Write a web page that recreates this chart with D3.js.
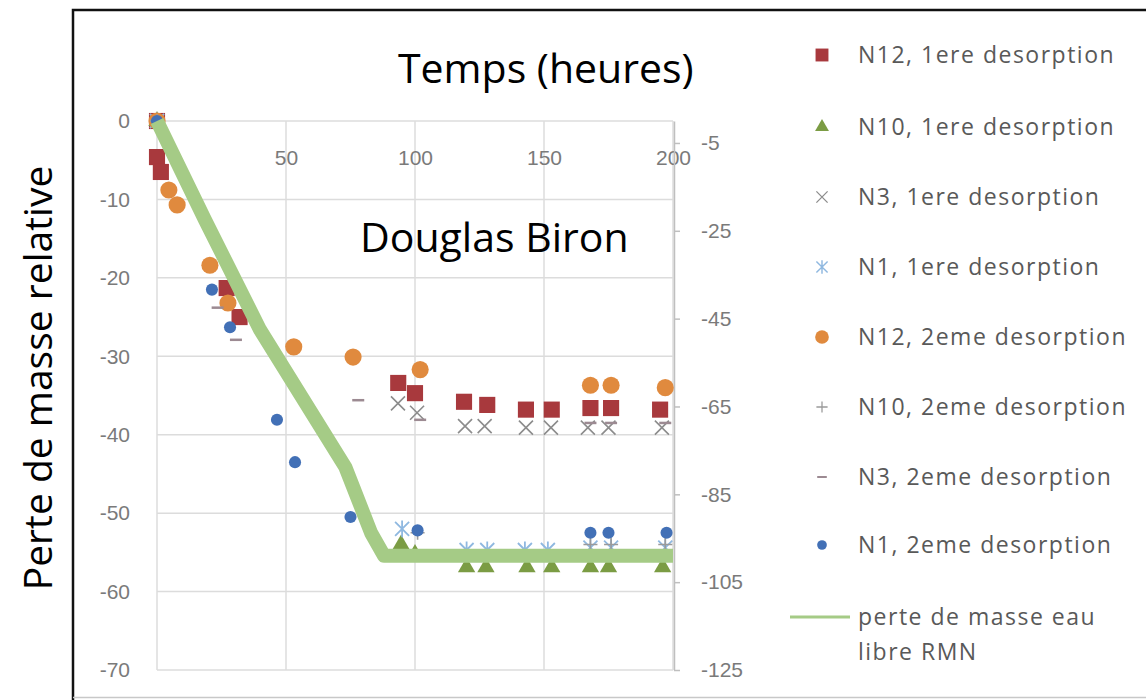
<!DOCTYPE html>
<html>
<head>
<meta charset="utf-8">
<script src="https://cdn.jsdelivr.net/npm/d3@7"></script>
<style>
  body { margin: 0; background: #fff; }
  svg { display: block; }
</style>
</head>
<body>
<script>
const WIDTH = 1146;
const HEIGHT = 700;

// [time (h), relative mass loss (%)]
const N12_1 = [[0, 0], [0, -4.6], [1.5, -6.5], [27, -21.3], [32, -25], [93.5, -33.4], [100, -34.7],
  [119, -35.8], [128, -36.2], [143, -36.8], [153, -36.8], [168, -36.6], [176, -36.6], [195, -36.8]];
const N10_1 = [[0, 0], [94.6, -54], [100, -55.2],
  [120, -56.9], [127.5, -56.9], [143.4, -56.9], [153, -56.9], [168, -56.9], [175, -56.9], [196, -56.9]];
const N3_1 = [[0, 0], [93.4, -36], [100.8, -37.2],
  [119.4, -38.9], [127, -38.9], [143, -39.1], [152.7, -39.1], [167, -39.1], [175, -39.1], [195.7, -39.1]];
const N1_1 = [[0, 0], [95, -52], [120, -54.7], [128, -54.7],
  [142.6, -54.7], [151.5, -54.7], [168, -54.4], [176, -54.4], [197, -54.4]];
const N12_2 = [[0, 0], [4.6, -8.8], [7.8, -10.7], [20.5, -18.4], [27.5, -23.2], [53, -28.8],
  [76, -30.1], [102, -31.7], [168, -33.7], [176, -33.7], [197, -34]];
const N10_2 = [[0, 0], [53, -33.5], [76, -46.7], [101, -52.5],
  [168, -54], [176, -54], [197, -54]];
const N3_2 = [[0, 0], [23.5, -23.8], [30.6, -27.9], [78, -35.6], [102, -38.1],
  [168, -38.5], [176, -38.5], [197, -38.5]];
const N1_2 = [[0, 0], [21.3, -21.5], [28.3, -26.3], [46.5, -38.1], [53.5, -43.5],
  [75, -50.5], [101, -52.2], [168, -52.5], [175, -52.5], [197.5, -52.5]];
// free water (NMR), on the secondary axis
const RMN = [[0, 0], [18.6, -22.5], [40, -47.6], [73, -78.8], [83, -93.8], [88, -99], [200, -99]];

const X_TICKS = [0, 50, 100, 150, 200];
const Y_TICKS = [0, -10, -20, -30, -40, -50, -60, -70];
const Y2_TICKS = [-5, -25, -45, -65, -85, -105, -125];

const LEGEND = [
  "N12, 1ere desorption", "N10, 1ere desorption", "N3, 1ere desorption", "N1, 1ere desorption",
  "N12, 2eme desorption", "N10, 2eme desorption", "N3, 2eme desorption", "N1, 2eme desorption"
];
const LINE_LABEL = ["perte de masse eau", "libre RMN"];

// plot box
const LEFT = 157, RIGHT = 673, TOP = 121, BOTTOM = 670;

var x = d3.scaleLinear().domain([0, 200]).range([LEFT, RIGHT]);
var y = d3.scaleLinear().domain([-70, 0]).range([BOTTOM, TOP]);
var y2 = d3.scaleLinear().domain([-125, 0]).range([BOTTOM, TOP]);

var svg = d3.select("body").append("svg")
  .attr("width", WIDTH)
  .attr("height", HEIGHT)
  .style("font-family", "'Open Sans', sans-serif");

// frame
svg.append("path")
  .attr("d", "M73,700 L73,10 L1150,10")
  .attr("fill", "none")
  .attr("stroke", "#111")
  .attr("stroke-width", 2.5);
svg.append("line")
  .attr("x1", 73).attr("x2", WIDTH).attr("y1", 697.5).attr("y2", 697.5)
  .attr("stroke", "#c8c8c8").attr("stroke-width", 1.5);

// gridlines
svg.append("g").selectAll("line").data(Y_TICKS).enter().append("line")
  .attr("x1", LEFT).attr("x2", RIGHT)
  .attr("y1", d => y(d)).attr("y2", d => y(d))
  .attr("stroke", "#dcdcdc").attr("stroke-width", 1.5);
svg.append("g").selectAll("line").data(X_TICKS).enter().append("line")
  .attr("x1", d => x(d)).attr("x2", d => x(d))
  .attr("y1", TOP).attr("y2", BOTTOM)
  .attr("stroke", "#dcdcdc").attr("stroke-width", 1.5);

// left axis
var yAxis = svg.append("g")
  .attr("transform", "translate(" + LEFT + ",0)")
  .call(d3.axisLeft(y).tickValues(Y_TICKS).tickSize(0).tickPadding(27).tickFormat(d => String(d)));
yAxis.select(".domain").remove();

// x axis (labels under the zero line)
var xAxis = svg.append("g")
  .attr("transform", "translate(0," + TOP + ")")
  .call(d3.axisBottom(x).tickValues(X_TICKS).tickSize(0).tickPadding(29).tickFormat(d => String(d)));
xAxis.select(".domain").remove();

// right axis
var y2Axis = svg.append("g")
  .attr("transform", "translate(" + (RIGHT + 1) + ",0)")
  .call(d3.axisRight(y2).tickValues(Y2_TICKS).tickSize(6).tickPadding(21).tickSizeOuter(0).tickFormat(d => String(d)));
y2Axis.select(".domain").attr("stroke", "#bfbfbf").attr("stroke-width", 1.5);
y2Axis.selectAll(".tick line").attr("stroke", "#bfbfbf").attr("stroke-width", 1.5);

svg.selectAll(".tick text")
  .attr("fill", "#7a7a7a")
  .style("font-size", "21px");

// marker shapes
function xMark(s) { return "M" + -s + "," + -s + "L" + s + "," + s + "M" + -s + "," + s + "L" + s + "," + -s; }
function plusMark(s) { return "M" + -s + ",0L" + s + ",0M0," + -s + "L0," + s; }
function starMark(s) { return xMark(s) + "M0," + -s * 1.2 + "L0," + s * 1.2; }
function dashMark(s) { return "M" + -s + ",0L" + s + ",0"; }

var SERIES = [
  { data: N12_1, d: d3.symbol(d3.symbolSquare, 260)(), fill: "#a8393d" },
  { data: N10_1, d: d3.symbol(d3.symbolTriangle, 130)(), fill: "#7b9c44" },
  { data: N3_1, d: xMark(7), stroke: "#8c8c8c", sw: 1.6 },
  { data: N1_1, d: starMark(7), stroke: "#8fb8e0", sw: 1.8 },
  { data: N12_2, d: d3.symbol(d3.symbolCircle, 230)(), fill: "#e08a3e" },
  { data: N10_2, d: plusMark(7), stroke: "#9a9a9a", sw: 1.6 },
  { data: N3_2, d: dashMark(6), stroke: "#9c8a92", sw: 2.5 },
  { data: N1_2, d: d3.symbol(d3.symbolCircle, 115)(), fill: "#4270b6" }
];

SERIES.forEach(function (s) {
  svg.append("g").selectAll("path").data(s.data).enter().append("path")
    .attr("transform", d => "translate(" + x(d[0]) + "," + y(d[1]) + ")")
    .attr("d", s.d)
    .attr("fill", s.fill || "none")
    .attr("stroke", s.stroke || "none")
    .attr("stroke-width", s.sw || 0);
});

// RMN line
var line = d3.line().x(d => x(d[0])).y(d => y2(d[1]));
svg.append("path")
  .datum(RMN)
  .attr("d", line)
  .attr("fill", "none")
  .attr("stroke", "#a5cb86")
  .attr("stroke-width", 14)
  .attr("stroke-linejoin", "round")
  .attr("stroke-linecap", "butt");

// legend
var LEG_Y = [55, 127, 197, 267, 337, 407, 477, 545];
var leg = svg.append("g");
LEGEND.forEach(function (name, i) {
  var s = SERIES[i];
  leg.append("path")
    .attr("d", s.d)
    .attr("fill", s.fill || "none")
    .attr("stroke", s.stroke || "none")
    .attr("stroke-width", s.sw || 0)
    .attr("transform", "translate(822," + LEG_Y[i] + ") scale(0.8)");
  leg.append("text")
    .attr("x", 858).attr("y", LEG_Y[i])
    .attr("dy", "0.36em")
    .attr("fill", "#595959")
    .style("font-size", "23px")
    .style("letter-spacing", "1.5px")
    .text(name);
});
leg.append("line")
  .attr("x1", 790).attr("x2", 850).attr("y1", 617).attr("y2", 617)
  .attr("stroke", "#a5cb86").attr("stroke-width", 3);
LINE_LABEL.forEach(function (t, i) {
  leg.append("text")
    .attr("x", 858).attr("y", 617 + i * 35)
    .attr("dy", "0.36em")
    .attr("fill", "#595959")
    .style("font-size", "23px")
    .style("letter-spacing", "1.5px")
    .text(t);
});

// titles
svg.append("text")
  .attr("x", 398).attr("y", 83)
  .style("font-size", "41px")
  .attr("fill", "#000")
  .text("Temps (heures)");
svg.append("text")
  .attr("x", 360).attr("y", 252)
  .style("font-size", "41px")
  .attr("fill", "#000")
  .text("Douglas Biron");
svg.append("text")
  .attr("transform", "translate(52,378) rotate(-90)")
  .attr("text-anchor", "middle")
  .style("font-size", "39px")
  .attr("fill", "#000")
  .text("Perte de masse relative");
</script>
</body>
</html>
